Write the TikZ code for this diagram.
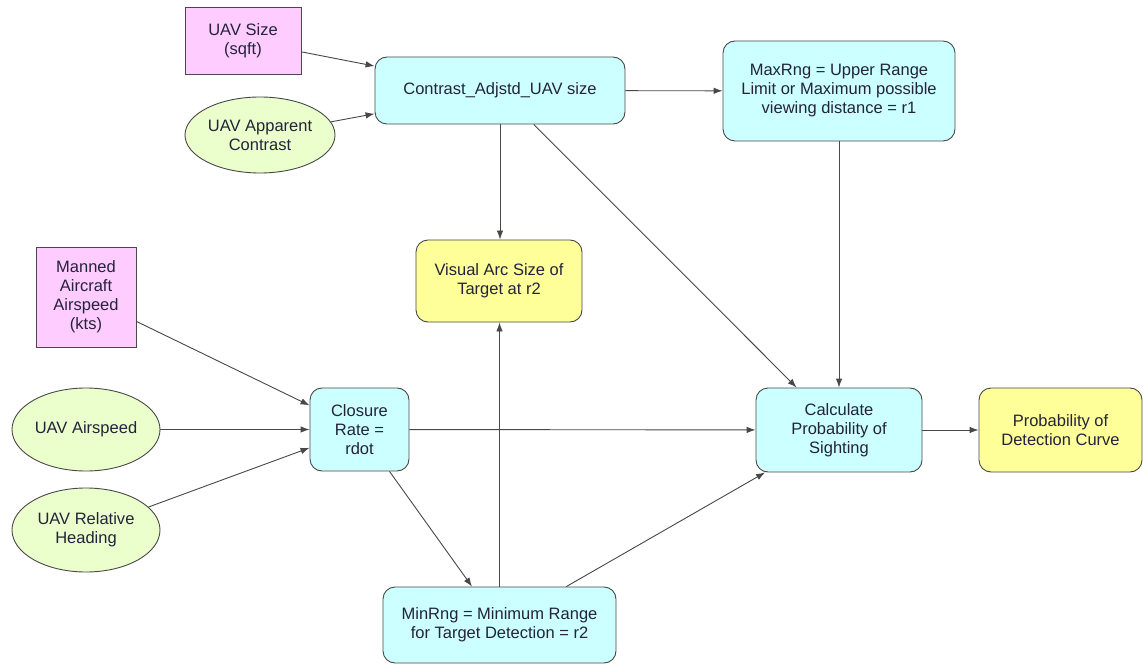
\documentclass[tikz,border=0pt]{standalone}
\usepackage{fontspec}
\setmainfont{Liberation Sans}
\usetikzlibrary{shapes.geometric,arrows.meta}
\definecolor{linegray}{HTML}{484848}
\definecolor{txt}{HTML}{23233A}
\definecolor{pinkf}{HTML}{FFCCFF}
\definecolor{cyanf}{HTML}{CCFFFF}
\definecolor{yellowf}{HTML}{FFFF99}
\definecolor{greenf}{HTML}{EAFFCC}
\begin{document}
\begin{tikzpicture}[x=1pt,y=-1pt,
  base/.style={draw=linegray, line width=0.9pt, text=txt, font=\fontsize{16.5}{19}\selectfont, align=center, inner sep=0pt},
  inbox/.style={base, rectangle, fill=pinkf},
  calcbox/.style={base, rectangle, rounded corners=12pt, fill=cyanf},
  outbox/.style={base, rectangle, rounded corners=12pt, fill=yellowf},
  chance/.style={base, ellipse, fill=greenf},
  arr/.style={draw=linegray, line width=0.9pt, -{Latex[length=9pt,width=6.5pt]}}]
\fill[white] (0,0) rectangle (1143,668);
\useasboundingbox (0,0) rectangle (1143,668);

\node[inbox, minimum width=116pt, minimum height=67pt] (usize) at (243,40.5) {UAV Size\\(sqft)};
\node[calcbox, minimum width=250pt, minimum height=67pt] (contrast) at (500,90.5) {Contrast\_Adjstd\_UAV size};
\node[chance, minimum width=150pt, minimum height=76pt] (appc) at (260,135) {UAV Apparent\\Contrast};
\node[calcbox, minimum width=232pt, minimum height=100pt] (maxrng) at (839,91) {MaxRng = Upper Range\\Limit or Maximum possible\\viewing distance = r1};
\node[outbox, minimum width=166pt, minimum height=82pt] (visarc) at (499,281) {Visual Arc Size of\\Target at r2};
\node[inbox, minimum width=100pt, minimum height=100pt] (manned) at (86,297) {Manned\\Aircraft\\Airspeed\\(kts)};
\node[chance, minimum width=148pt, minimum height=83pt] (airspeed) at (86,429.5) {UAV Airspeed};
\node[chance, minimum width=148pt, minimum height=84pt] (heading) at (86,530) {UAV Relative\\Heading};
\node[calcbox, minimum width=99pt, minimum height=83pt] (closure) at (359.5,429.5) {Closure\\Rate =\\rdot};
\node[calcbox, minimum width=166pt, minimum height=84pt] (calc) at (839,430) {Calculate\\Probability of\\Sighting};
\node[outbox, minimum width=163pt, minimum height=84pt] (prob) at (1060.5,430) {Probability of\\Detection Curve};
\node[calcbox, minimum width=233pt, minimum height=76pt] (minrng) at (499.5,625) {MinRng = Minimum Range\\for Target Detection = r2};

\draw[arr] (usize) -- (contrast);
\draw[arr] (appc) -- (contrast);
\draw[arr] (contrast) -- (maxrng);
\draw[arr] (contrast.south) -- (visarc.north -| contrast.south);
\draw[arr] (contrast) -- (calc);
\draw[arr] (maxrng) -- (calc);
\draw[arr] (manned) -- (closure);
\draw[arr] (airspeed) -- (closure);
\draw[arr] (heading) -- (closure);
\draw[arr] (closure) -- (calc);
\draw[arr] (closure) -- (minrng);
\draw[arr] (minrng.north) -- (visarc.south -| minrng.north);
\draw[arr] (minrng) -- (calc);
\draw[arr] (calc) -- (prob);
\end{tikzpicture}
\end{document}
